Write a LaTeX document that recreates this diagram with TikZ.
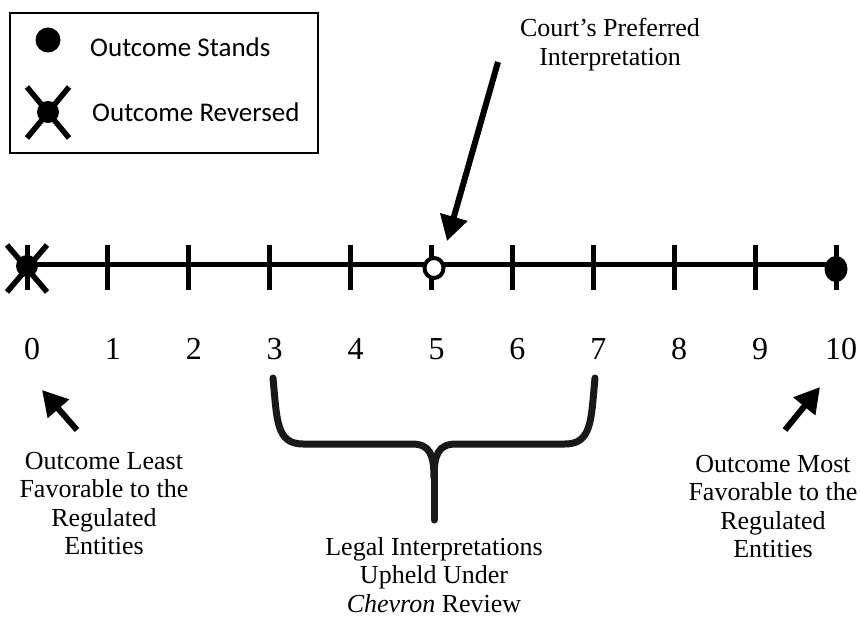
\documentclass[tikz,border=0pt]{standalone}
\usepackage{fontspec}
\setmainfont{Liberation Serif}
\newfontfamily\legendfont{Carlito}
\usetikzlibrary{arrows.meta}

\begin{document}
\begin{tikzpicture}[
  x=1pt, y=-1pt,
  every node/.style={inner sep=0pt, align=center},
  axis/.style={line width=5pt},
  tick/.style={line width=5pt},
  bigarrow/.style={line width=6pt, -{Triangle[width=27pt,length=25pt]}},
  cross/.style={line width=5.5pt},
  note/.style={font=\fontsize{26}{28.5}\selectfont, anchor=north},
  num/.style={font=\fontsize{32}{36}\selectfont, anchor=base},
  legendtext/.style={font=\legendfont\fontsize{27}{30}\selectfont, anchor=base west},
  brace/.style={line width=7pt, line join=round, line cap=round, black!90}
]
\useasboundingbox (0,0) rectangle (861,617);

% legend
\draw[line width=2pt] (10,13) rectangle (318,153);
\fill (48,40) circle[radius=12.5pt];
\node[legendtext] (stands) at (90,57) {Outcome Stands};
\fill (48,112) circle[radius=11pt];
\draw[cross] (27,87) -- (69,138);
\draw[cross] (69,87) -- (27,138);
\node[legendtext] (reversed) at (92,122) {Outcome Reversed};

% number line
\draw[axis] (27,265) -- (836,265);
\foreach \i in {0,...,10} {
  \draw[tick] ({27+80.9*\i},245) -- ({27+80.9*\i},290);
  \node[num] (n\i) at ({32+80.9*\i},359) {\i};
}

% markers
\fill (27,266) circle[radius=11pt];
\draw[cross] (7,245) -- (47,292);
\draw[cross] (47,245) -- (7,292);
\draw[line width=4pt, fill=white] (434,268) ellipse[x radius=9.5pt, y radius=10pt];
\fill (836,269) ellipse[x radius=11.5pt, y radius=13pt];

% labels
\node[note] (court) at (610,18) {Court's Preferred\\Interpretation};
\node[note] (least) at (104,452) {Outcome Least\\Favorable to the\\Regulated\\Entities};
\node[note] (most) at (773,455) {Outcome Most\\Favorable to the\\Regulated\\Entities};
\node[note] (legal) at (434,537) {Legal Interpretations\\Upheld Under\\\textit{Chevron} Review};

% arrows
\coordinate (courttail) at (498,62);
\coordinate (courttip) at (447,241);
\coordinate (leasttail) at (77,430);
\coordinate (leasttip) at (42,390);
\coordinate (mosttail) at (785,430);
\coordinate (mosttip) at (820,387);
\draw[bigarrow] (courttail) -- (courttip);
\draw[bigarrow] (leasttail) -- (leasttip);
\draw[bigarrow] (mosttail) -- (mosttip);

% brace
\draw[brace] (273,378) .. controls (277,420) and (276,444) .. (303,444) -- (412,444)
  .. controls (430,444) and (434,455) .. (434,478)
  .. controls (434,455) and (438,444) .. (456,444) -- (565,444)
  .. controls (592,444) and (591,420) .. (595,378);
\draw[brace] (434,470) -- (434,520);
\end{tikzpicture}
\end{document}
